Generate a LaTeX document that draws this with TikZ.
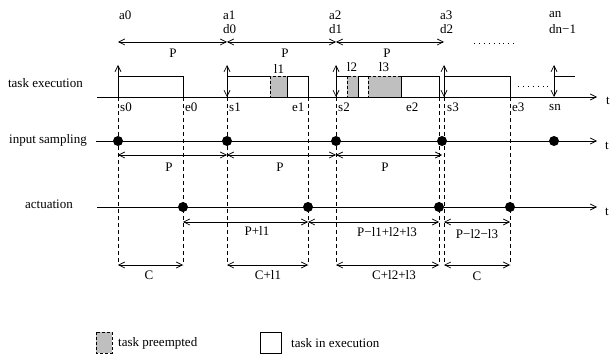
\documentclass[tikz,border=0pt]{standalone}
\usepackage{fontspec}
\setmainfont{Liberation Serif}
\usetikzlibrary{arrows.meta}
\begin{document}
\begin{tikzpicture}[x=1pt,y=-1pt,
  ln/.style={line width=0.7pt},
  tipa/.tip={Straight Barb[length=6pt,width=6pt,line width=0.7pt]},
  arr/.style={ln,-tipa},
  darr/.style={ln,tipa-tipa},
  vdash/.style={ln,dash pattern=on 4pt off 3pt},
  runbox/.style={draw,ln,fill=white},
  prebox/.style={draw,ln,fill=gray!50,dash pattern=on 3pt off 2pt},
  lbl/.style={inner sep=0pt,font=\fontsize{13}{15}\selectfont},
  dotc/.style={circle,fill=black,inner sep=0pt,minimum size=10pt},
  dotline/.style={line width=0.9pt,dash pattern=on 0.9pt off 4pt}]
\useasboundingbox (0,0) rectangle (611,358);

% time instants at each level
\foreach \n/\x in {s0/118,e0/183,s1/227,e1/308,s2/336,e2/439,s3/444,e3/510,sn/554,i3/442}{
  \coordinate (\n-top) at (\x,65);
  \coordinate (\n-ax) at (\x,97);
  \coordinate (\n-P) at (\x,42);
  \coordinate (\n-in) at (\x,141);
  \coordinate (\n-ip) at (\x,155);
  \coordinate (\n-act) at (\x,207);
  \coordinate (\n-ap) at (\x,222);
  \coordinate (\n-c) at (\x,265);
}

% top labels
\node[lbl,anchor=west] (a0) at (119,15) {a0};
\node[lbl,anchor=west] (a1) at (223,15) {a1};
\node[lbl,anchor=west] (d0) at (223,29) {d0};
\node[lbl,anchor=west] (a2) at (329,15) {a2};
\node[lbl,anchor=west] (d1) at (329,29) {d1};
\node[lbl,anchor=west] (a3) at (440,15) {a3};
\node[lbl,anchor=west] (d2) at (440,29) {d2};
\node[lbl,anchor=west] (an) at (549,15) {an};
\node[lbl,anchor=west] (dn) at (549,29) {dn−1};

% top period arrows
\draw[darr] (s0-P) -- (s1-P);
\draw[darr] (s1-P) -- (s2-P);
\draw[darr] (s2-P) -- (s3-P);
\node[lbl] (P1) at (173,53) {P};
\node[lbl] (P2) at (285,53) {P};
\node[lbl] (P3) at (387,53) {P};
\coordinate (dt0) at (474,43);
\coordinate (dt1) at (518,43);
\draw[dotline] (dt0) -- (dt1);

% row labels
\node[lbl,anchor=east] (rte) at (83,83) {task execution};
\node[lbl,anchor=east] (ris) at (87,140) {input sampling};
\node[lbl,anchor=east] (rac) at (73,204) {actuation};

% dashed vertical lines
\foreach \n in {s0,e0,s1,e1,s2,e2,s3,e3}{
  \draw[vdash] (\n-ax) -- (\n-c);
}

% task execution row
\coordinate (te0) at (97,97);
\coordinate (te1) at (597,97);
\draw[arr] (te0) -- (te1);
\node[lbl] (tt1) at (608,101) {t};

\draw[runbox] (118,76) rectangle (183,97);
\draw[runbox] (227,76) rectangle (270,97);
\draw[runbox] (287,76) rectangle (308,97);
\draw[prebox] (270,76) rectangle (287,97);
\draw[runbox] (336,76) rectangle (347,97);
\draw[runbox] (358,76) rectangle (368,97);
\draw[runbox] (401,76) rectangle (439,97);
\draw[prebox] (347,76) rectangle (358,97);
\draw[prebox] (368,76) rectangle (401,97);
\draw[runbox] (444,76) rectangle (510,97);
\coordinate (snt) at (554,76);
\coordinate (snr) at (575,76);
\draw[ln] (snt) -- (snr);
\coordinate (dd0) at (518,86);
\coordinate (dd1) at (552,86);
\draw[dotline] (dd0) -- (dd1);

\draw[arr] (s0-ax) -- (s0-top);
\draw[darr] (s1-ax) -- (s1-top);
\draw[darr] (s2-ax) -- (s2-top);
\draw[darr] (s3-ax) -- (s3-top);
\draw[darr] (sn-ax) -- (sn-top);

\node[lbl] (l1) at (279,69) {l1};
\node[lbl] (l2) at (352,67) {l2};
\node[lbl] (l3) at (384,67) {l3};

\node[lbl,anchor=west] (ls0) at (120,107) {s0};
\node[lbl,anchor=west] (le0) at (185,107) {e0};
\node[lbl,anchor=west] (ls1) at (229,107) {s1};
\node[lbl,anchor=west] (le1) at (292,107) {e1};
\node[lbl,anchor=west] (ls2) at (338,107) {s2};
\node[lbl,anchor=west] (le2) at (406,107) {e2};
\node[lbl,anchor=west] (ls3) at (447,107) {s3};
\node[lbl,anchor=west] (le3) at (512,107) {e3};
\node[lbl] (lsn) at (555,108) {sn};

% input sampling row
\coordinate (is0) at (96,141);
\coordinate (is1) at (597,141);
\draw[arr] (is0) -- (is1);
\node[lbl] (tt2) at (607,146) {t};
\draw[darr] (s0-ip) -- (s1-ip);
\draw[darr] (s1-ip) -- (s2-ip);
\draw[darr] (s2-ip) -- (i3-ip);
\node[lbl] (Q1) at (169,167) {P};
\node[lbl] (Q2) at (280,167) {P};
\node[lbl] (Q3) at (385,167) {P};
\foreach \n in {s0,s1,s2,i3,sn}{
  \node[dotc] (in-\n) at (\n-in) {};
}

% actuation row
\coordinate (ac0) at (97,207);
\coordinate (ac1) at (597,207);
\draw[arr] (ac0) -- (ac1);
\node[lbl] (tt3) at (607,212) {t};
\draw[darr] (e0-ap) -- (e1-ap);
\draw[darr] (e1-ap) -- (e2-ap);
\draw[darr] (s3-ap) -- (e3-ap);
\node[lbl] (A1) at (257,231) {P+l1};
\node[lbl] (A2) at (387,232) {P−l1+l2+l3};
\node[lbl] (A3) at (477,234) {P−l2−l3};
\foreach \n in {e0,e1,e2,e3}{
  \node[dotc] (ac-\n) at (\n-act) {};
}

% computation times
\draw[darr] (s0-c) -- (e0-c);
\draw[darr] (s1-c) -- (e1-c);
\draw[darr] (s2-c) -- (e2-c);
\draw[darr] (s3-c) -- (e3-c);
\node[lbl] (C1) at (149,275) {C};
\node[lbl] (C2) at (268,275) {C+l1};
\node[lbl] (C3) at (394,275) {C+l2+l3};
\node[lbl] (C4) at (477,276) {C};

% legend
\draw[prebox] (96,332) rectangle (112,353);
\node[lbl,anchor=west] (lg1) at (118,343) {task preempted};
\draw[runbox] (260,332) rectangle (281,353);
\node[lbl,anchor=west] (lg2) at (291,343) {task in execution};
\end{tikzpicture}
\end{document}
